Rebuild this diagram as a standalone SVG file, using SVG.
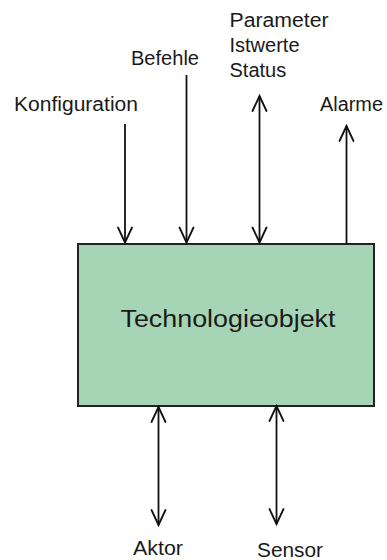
<svg xmlns="http://www.w3.org/2000/svg" width="387" height="560" viewBox="0 0 387 560">
  <style>
    .lbl { font-family: "Liberation Sans", Arial, sans-serif; font-size: 20px; fill: #1a1a1a; }
    .title { font-family: "Liberation Sans", Arial, sans-serif; font-size: 23px; fill: #1a1a1a; }
    .box { fill: #a6d5b6; stroke: #222; stroke-width: 2; }
    .wire { stroke: #111; stroke-width: 1.8; fill: none; }
    .head { stroke: #111; stroke-width: 1.8; fill: none; stroke-linecap: round; stroke-linejoin: miter; }
  </style>
  <defs>
    <marker id="arrow" markerUnits="userSpaceOnUse" orient="auto-start-reverse" refX="0" refY="0" markerWidth="20" markerHeight="20" overflow="visible">
      <path class="head" d="M-15,-7 L0,0 L-15,7"/>
    </marker>
  </defs>

  <g id="technologieobjekt">
    <rect class="box" x="78" y="244" width="296" height="162"/>
    <text class="title" x="228" y="327" text-anchor="middle" textLength="215" lengthAdjust="spacingAndGlyphs">Technologieobjekt</text>
  </g>

  <g id="konfiguration">
    <text class="lbl" x="14" y="111" textLength="124" lengthAdjust="spacingAndGlyphs">Konfiguration</text>
  </g>
  <g id="befehle">
    <text class="lbl" x="131" y="65" textLength="68" lengthAdjust="spacingAndGlyphs">Befehle</text>
  </g>
  <g id="parameter">
    <text class="lbl" x="229.5" y="26.5" textLength="99" lengthAdjust="spacingAndGlyphs">Parameter</text>
    <text class="lbl" x="229.5" y="51.5">Istwerte</text>
    <text class="lbl" x="229.5" y="76.5">Status</text>
  </g>
  <g id="alarme">
    <text class="lbl" x="320" y="111" textLength="63" lengthAdjust="spacingAndGlyphs">Alarme</text>
  </g>
  <g id="aktor">
    <text class="lbl" x="133" y="555" textLength="50" lengthAdjust="spacingAndGlyphs">Aktor</text>
  </g>
  <g id="sensor">
    <text class="lbl" x="257" y="556.5" textLength="66" lengthAdjust="spacingAndGlyphs">Sensor</text>
  </g>

  <g id="connectors">
    <!-- inputs into the object -->
    <line class="wire" x1="125" y1="124" x2="125" y2="242.5" marker-end="url(#arrow)"/>
    <line class="wire" x1="186.5" y1="75" x2="186.5" y2="242.5" marker-end="url(#arrow)"/>
    <!-- bidirectional data -->
    <line class="wire" x1="259.5" y1="96" x2="259.5" y2="242.5" marker-start="url(#arrow)" marker-end="url(#arrow)"/>
    <!-- alarms out -->
    <line class="wire" x1="346.5" y1="126" x2="346.5" y2="244" marker-start="url(#arrow)"/>
    <!-- process side -->
    <line class="wire" x1="158.5" y1="407" x2="158.5" y2="525" marker-start="url(#arrow)" marker-end="url(#arrow)"/>
    <line class="wire" x1="276.5" y1="406" x2="276.5" y2="524" marker-start="url(#arrow)" marker-end="url(#arrow)"/>
  </g>
</svg>
